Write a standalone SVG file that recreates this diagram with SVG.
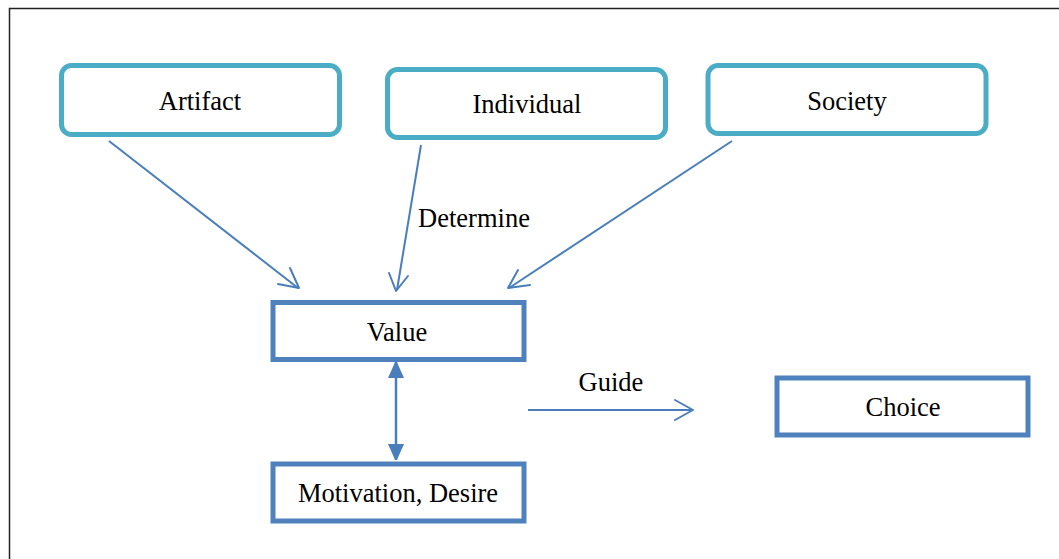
<svg xmlns="http://www.w3.org/2000/svg" width="1059" height="559" viewBox="0 0 1059 559">
<style>
.t{font-family:'Liberation Serif','Times New Roman','DejaVu Serif',serif;font-size:26.5px;fill:#000;text-anchor:middle}
.top{fill:#fff;stroke:#4BACC6;stroke-width:5}
.box{fill:#fff;stroke:#4F81BD;stroke-width:5}
.c{stroke:#4A7EBB;stroke-width:2;fill:none}
.open{stroke:#4A7EBB;stroke-width:2;fill:none;stroke-linecap:round;stroke-linejoin:round}
</style>
<defs>
<marker id="filled" viewBox="0 0 16 18" refX="16" refY="8" markerWidth="16" markerHeight="18" markerUnits="userSpaceOnUse" orient="auto-start-reverse">
<path d="M0,0 L18,8 L0,16 Z" fill="#4A7EBB"/>
</marker>
</defs>
<rect width="1059" height="559" fill="#fff"/>
<path d="M9.5 559 V8.5 H1059" fill="none" stroke="#222" stroke-width="1.5"/>
<g id="artifact"><rect class="top" x="61.5" y="65.5" width="278" height="69" rx="10"/><text class="t" x="200" y="110">Artifact</text></g>
<g id="individual"><rect class="top" x="387.5" y="69.5" width="278" height="68" rx="10"/><text class="t" x="527" y="113">Individual</text></g>
<g id="society"><rect class="top" x="708" y="65.5" width="278" height="68" rx="10"/><text class="t" x="847" y="110">Society</text></g>
<g id="value"><rect class="box" x="273" y="302.5" width="251" height="57"/><text class="t" x="397" y="341">Value</text></g>
<g id="motivation"><rect class="box" x="273" y="464" width="251" height="57"/><text class="t" x="398" y="502">Motivation, Desire</text></g>
<g id="choice"><rect class="box" x="777" y="378" width="251" height="57"/><text class="t" x="903" y="416">Choice</text></g>
<g id="connectors">
<line class="c" x1="109" y1="141" x2="298" y2="288"/>
<path class="open" d="M290 268 L299 288 L278 284"/>
<line class="c" x1="421" y1="145" x2="397" y2="290"/>
<path class="open" d="M389 273 L396 291 L408 276"/>
<line class="c" x1="732" y1="141" x2="509" y2="288"/>
<path class="open" d="M518 270 L508 288 L530 285"/>
<line class="c" x1="396" y1="362" x2="396" y2="460" marker-start="url(#filled)" marker-end="url(#filled)" style="stroke-width:2.5"/>
<line class="c" x1="528" y1="410" x2="692" y2="410"/>
<path class="open" d="M675 400 L693 410 L675 420"/>
<text class="t" x="474" y="227">Determine</text>
<text class="t" x="611" y="391">Guide</text>
</g>
</svg>
